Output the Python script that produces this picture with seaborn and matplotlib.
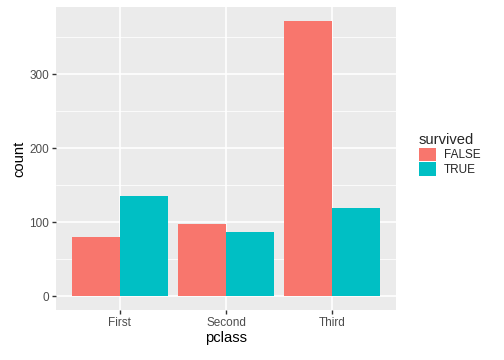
import matplotlib
matplotlib.use("Agg")
import matplotlib.pyplot as plt
import pandas as pd
import seaborn as sns
from matplotlib.patches import Patch
from matplotlib.ticker import MultipleLocator

pclass = ["First", "Second", "Third"]
survived_false = [80, 97, 372]
survived_true = [136, 87, 119]
hue_levels = ["FALSE", "TRUE"]
colors = ["#F8766D", "#00BFC4"]

df = pd.DataFrame({
    "pclass": pclass * 2,
    "survived": ["FALSE"] * 3 + ["TRUE"] * 3,
    "count": survived_false + survived_true,
})

sns.set_theme(style="darkgrid")
plt.rcParams["font.family"] = ["Liberation Sans", "DejaVu Sans"]

fig = plt.figure(figsize=(7, 5), dpi=72)
ax = fig.add_axes([56 / 504, 1 - 310 / 360, 340 / 504, 303 / 360])
ax.set_facecolor("#EBEBEB")

sns.barplot(data=df, x="pclass", y="count", hue="survived", hue_order=hue_levels,
            palette=colors, saturation=1, width=0.9, gap=0, linewidth=0,
            legend=False, ax=ax)

ymax = max(survived_false + survived_true)
ax.set_ylim(-0.05 * ymax, ymax * 1.05)
ax.set_xlim(-0.6, 2.6)
ax.yaxis.set_major_locator(MultipleLocator(100))
ax.yaxis.set_minor_locator(MultipleLocator(50))
ax.grid(which="major", color="white", linewidth=1.6)
ax.grid(which="minor", axis="y", color="white", linewidth=0.8)
ax.set_axisbelow(True)
for s in ax.spines.values():
    s.set_visible(False)

ax.tick_params(axis="both", which="major", length=3.7, width=1.4, color="#333333",
               labelcolor="#4D4D4D", labelsize=11.7, pad=3)
ax.tick_params(which="minor", length=0)
ax.tick_params(axis="x", bottom=True)
ax.tick_params(axis="y", left=True)
ax.set_xlabel("pclass", fontsize=14.7, color="black", labelpad=2)
ax.set_ylabel("count", fontsize=14.7, color="black", labelpad=3)

handles = [Patch(facecolor=c, edgecolor="none") for c in colors]
leg = fig.legend(handles, hue_levels, title="survived", loc="upper left",
                 bbox_to_anchor=(419 / 504, 1 - 133 / 360), frameon=False,
                 fontsize=11.7, title_fontsize=14.7, handlelength=1.45, handleheight=1.45,
                 handletextpad=0.7, labelspacing=0.05, borderaxespad=0, borderpad=0)
leg._legend_box.align = "left"

fig.savefig("out.png", dpi=72)
